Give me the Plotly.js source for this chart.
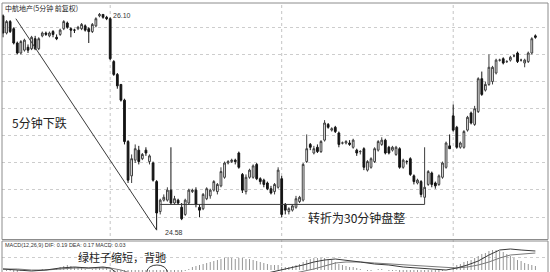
<!DOCTYPE html>
<html>
<head>
<meta charset="utf-8">
<script src="https://cdn.plot.ly/plotly-3.0.1.min.js"></script>
<style>
html, body { margin: 0; padding: 0; background: #ffffff; }
#chart { width: 550px; height: 272px; }
</style>
</head>
<body>
<div id="chart"></div>
<script>
// 5-minute bars over four sessions (48 bars per session)
const openPx = [
  26.08, 25.96, 26.04, 25.99, 25.89, 25.82, 25.84, 25.86, 25.85, 25.92,
  25.85, 25.94, 25.96, 25.94, 25.97, 25.93, 25.95, 25.99, 26.03, 25.99,
  25.98, 25.99, 25.99, 26.01, 25.99, 25.97, 26.01, 26.08, 26.09, 26.07,
  26.06, 25.76, 25.67, 25.60, 25.49, 25.20, 24.96, 25.07, 25.14, 25.08,
  25.14, 25.06, 25.05, 24.92, 24.71, 24.79, 24.79, 24.86, 24.77, 24.79,
  24.74, 24.69, 24.77, 24.85, 24.86, 24.74, 24.73, 24.80, 24.82, 24.86,
  24.85, 24.89, 24.95, 25.05, 25.06, 25.07, 25.12, 24.97, 24.85, 24.95,
  24.95, 25.04, 24.94, 24.93, 24.91, 24.87, 24.85, 24.88, 24.94, 24.76,
  24.71, 24.72, 24.74, 24.78, 24.79, 25.06, 25.18, 25.12, 25.16, 25.13,
  25.21, 25.32, 25.28, 25.30, 25.26, 25.19, 25.19, 25.19, 25.16, 25.14,
  25.13, 25.15, 25.00, 25.02, 25.06, 25.14, 25.18, 25.21, 25.16, 25.14,
  25.11, 25.15, 25.02, 25.06, 25.08, 24.96, 24.91, 24.92, 24.81, 24.90,
  24.98, 24.91, 24.90, 24.95, 25.02, 25.17, 25.38, 25.30, 25.16, 25.16,
  25.28, 25.40, 25.32, 25.41, 25.64, 25.56, 25.60, 25.62, 25.68, 25.77,
  25.78, 25.76, 25.77, 25.80, 25.82, 25.77, 25.75, 25.76, 25.82, 25.94
];
const highPx = [
  26.09, 26.05, 26.05, 26.00, 25.90, 25.91, 25.92, 25.88, 25.94, 25.94,
  25.93, 25.97, 25.97, 25.97, 25.98, 25.95, 25.99, 26.05, 26.04, 26.00,
  25.99, 26.01, 26.03, 26.02, 26.00, 26.03, 26.07, 26.10, 26.09, 26.08,
  26.07, 25.77, 25.68, 25.60, 25.50, 25.21, 25.11, 25.18, 25.17, 25.12,
  25.16, 25.11, 25.06, 24.93, 24.80, 24.83, 24.88, 25.16, 24.82, 24.80,
  24.77, 24.80, 24.87, 24.87, 24.88, 24.76, 24.84, 24.88, 24.87, 24.93,
  24.91, 25.02, 25.06, 25.07, 25.08, 25.08, 25.13, 24.98, 24.97, 25.01,
  25.04, 25.05, 24.95, 24.94, 24.92, 24.89, 24.91, 25.02, 24.96, 24.77,
  24.74, 24.76, 24.82, 24.82, 25.05, 25.25, 25.19, 25.17, 25.18, 25.21,
  25.35, 25.33, 25.30, 25.31, 25.27, 25.20, 25.21, 25.21, 25.22, 25.15,
  25.14, 25.16, 25.07, 25.09, 25.16, 25.21, 25.23, 25.22, 25.17, 25.17,
  25.17, 25.16, 25.08, 25.07, 25.09, 24.97, 24.94, 24.93, 25.16, 25.00,
  24.99, 24.92, 24.97, 25.06, 25.20, 25.25, 25.46, 25.31, 25.20, 25.28,
  25.38, 25.41, 25.45, 25.65, 25.69, 25.62, 25.81, 25.73, 25.78, 25.78,
  25.79, 25.77, 25.80, 25.81, 25.83, 25.78, 25.78, 25.83, 25.93, 25.95
];
const lowPx = [
  25.93, 25.95, 25.96, 25.88, 25.81, 25.81, 25.83, 25.82, 25.84, 25.84,
  25.84, 25.93, 25.94, 25.93, 25.93, 25.91, 25.94, 25.98, 25.99, 25.93,
  25.96, 25.98, 25.98, 25.97, 25.89, 25.96, 26.00, 26.07, 26.06, 26.05,
  25.77, 25.66, 25.57, 25.48, 25.18, 24.91, 24.91, 25.05, 25.04, 25.07,
  25.10, 25.04, 24.92, 24.58, 24.69, 24.78, 24.78, 24.76, 24.76, 24.76,
  24.65, 24.68, 24.76, 24.84, 24.74, 24.67, 24.72, 24.79, 24.80, 24.85,
  24.83, 24.88, 24.94, 25.04, 25.05, 25.04, 25.01, 24.84, 24.83, 24.94,
  24.94, 24.93, 24.90, 24.88, 24.86, 24.83, 24.83, 24.87, 24.67, 24.69,
  24.69, 24.71, 24.73, 24.77, 24.78, 25.05, 25.14, 25.11, 25.12, 25.12,
  25.20, 25.29, 25.27, 25.26, 25.16, 25.18, 25.18, 25.17, 25.15, 25.10,
  25.11, 25.00, 24.99, 25.01, 25.05, 25.13, 25.17, 25.11, 25.11, 25.13,
  25.10, 25.01, 25.01, 25.04, 24.96, 24.90, 24.90, 24.81, 24.76, 24.89,
  24.88, 24.87, 24.89, 24.94, 25.01, 25.15, 25.27, 25.15, 25.15, 25.15,
  25.27, 25.32, 25.31, 25.40, 25.52, 25.55, 25.59, 25.60, 25.67, 25.76,
  25.74, 25.75, 25.76, 25.79, 25.75, 25.76, 25.72, 25.75, 25.81, 25.92
];
const closePx = [
  25.96, 26.04, 25.97, 25.89, 25.82, 25.90, 25.91, 25.84, 25.93, 25.85,
  25.92, 25.96, 25.95, 25.96, 25.95, 25.92, 25.98, 26.04, 26.00, 25.98,
  25.98, 26.00, 26.02, 25.98, 25.97, 26.02, 26.06, 26.09, 26.07, 26.06,
  25.78, 25.67, 25.59, 25.49, 25.20, 24.93, 25.08, 25.15, 25.06, 25.11,
  25.12, 25.10, 24.93, 24.70, 24.79, 24.81, 24.86, 24.77, 24.80, 24.77,
  24.66, 24.79, 24.86, 24.86, 24.76, 24.72, 24.83, 24.87, 24.86, 24.92,
  24.90, 24.99, 25.05, 25.06, 25.07, 25.06, 25.02, 24.86, 24.95, 25.00,
  25.03, 24.94, 24.92, 24.90, 24.87, 24.84, 24.90, 25.00, 24.69, 24.72,
  24.73, 24.75, 24.80, 24.81, 25.04, 25.15, 25.16, 25.15, 25.13, 25.20,
  25.33, 25.30, 25.29, 25.27, 25.18, 25.19, 25.20, 25.18, 25.21, 25.12,
  25.13, 25.02, 25.06, 25.08, 25.15, 25.20, 25.21, 25.12, 25.12, 25.16,
  25.16, 25.02, 25.07, 25.06, 24.97, 24.92, 24.93, 24.83, 24.88, 24.99,
  24.90, 24.89, 24.96, 25.05, 25.19, 25.15, 25.28, 25.16, 25.19, 25.27,
  25.37, 25.33, 25.43, 25.64, 25.53, 25.60, 25.72, 25.72, 25.77, 25.77,
  25.75, 25.76, 25.79, 25.80, 25.76, 25.77, 25.77, 25.82, 25.92, 25.93
];
const sessionStarts = [30, 78, 126];

// MACD(12,26,9) histogram, one value per bar
const macdHist = [
  0.00, -0.01, -0.01, -0.02, -0.02, -0.01, -0.01, 0.00, 0.00, -0.01,
  0.00, 0.01, 0.01, 0.01, 0.01, 0.02, 0.03, 0.04, 0.05, 0.04,
  0.03, 0.03, 0.02, 0.01, 0.00, 0.01, 0.02, 0.03, 0.03, 0.02,
  -0.03, -0.08, -0.13, -0.18, -0.26, -0.33, -0.30, -0.28, -0.27, -0.26,
  -0.24, -0.20, -0.18, -0.20, -0.14, -0.11, -0.08, -0.06, -0.04, -0.03,
  -0.02, -0.01, 0.01, 0.03, 0.04, 0.05, 0.06, 0.07, 0.08, 0.09,
  0.10, 0.11, 0.12, 0.13, 0.12, 0.11, 0.12, 0.12, 0.11, 0.11,
  0.10, 0.09, 0.08, 0.07, 0.06, 0.05, 0.05, 0.05, 0.03, 0.03,
  0.03, 0.04, 0.05, 0.06, 0.08, 0.10, 0.11, 0.12, 0.12, 0.12,
  0.12, 0.11, 0.10, 0.08, 0.06, 0.05, 0.04, 0.03, 0.03, 0.02,
  0.01, 0.00, -0.01, -0.01, 0.00, 0.01, 0.01, 0.00, -0.01, -0.01,
  -0.01, -0.02, -0.02, -0.02, -0.03, -0.03, -0.04, -0.04, -0.04, -0.04,
  -0.03, -0.03, -0.02, -0.01, 0.00, 0.01, 0.03, 0.05, 0.06, 0.08,
  0.09, 0.10, 0.12, 0.14, 0.16, 0.17, 0.19, 0.20, 0.20, 0.19,
  0.18, 0.16, 0.14, 0.12, 0.10, 0.09, 0.07, 0.06, 0.05, 0.04
];
// DIF / DEA lines, read at these bars
const macdAt = [0, 4, 8, 12, 16, 20, 24, 28, 30, 33, 36, 40, 45, 50, 55, 60, 65, 70, 74, 78,
                81, 84, 87, 90, 93, 96, 100, 104, 108, 112, 116, 120, 124, 127, 130, 133, 136, 139, 142, 145, 149];
const difLine = [0.01, 0.00, -0.01, 0.00, 0.02, 0.03, 0.02, 0.03, 0.02, -0.06, -0.16, -0.24, -0.27, -0.24, -0.19, -0.14, -0.09, -0.05, -0.03, 0.00,
                 0.02, 0.05, 0.08, 0.10, 0.11, 0.10, 0.08, 0.06, 0.05, 0.03, 0.02, 0.01, 0.00, 0.02, 0.05, 0.09, 0.15, 0.20, 0.21, 0.20, 0.19];
const deaLine = [0.01, 0.01, 0.00, 0.00, 0.01, 0.02, 0.02, 0.02, 0.02, 0.00, -0.04, -0.10, -0.16, -0.19, -0.20, -0.18, -0.15, -0.12, -0.09, -0.06,
                 -0.04, -0.02, 0.01, 0.04, 0.07, 0.08, 0.08, 0.07, 0.06, 0.05, 0.04, 0.03, 0.02, 0.02, 0.03, 0.05, 0.08, 0.12, 0.15, 0.16, 0.17];
const macdReadout = { dif: 0.19, dea: 0.17, macd: 0.03 };

// Hand-drawn markup
const fallStart = { bar: 3.6, price: 26.06 };
const rangeStartBar = 44;
const rangeEndBar = 118;
const ellipseBars = [40.3, 45.9];

const bars = openPx.map((_, i) => i);
const hiIdx = highPx.indexOf(Math.max(...highPx));
const loIdx = lowPx.indexOf(Math.min(...lowPx));

const W = 550, H = 272;
const px = v => v / W;            // page x -> paper
const py = v => 1 - v / H;        // page y -> paper

const traces = [
  {
    type: 'candlestick', x: bars, open: openPx, high: highPx, low: lowPx, close: closePx,
    xaxis: 'x', yaxis: 'y', hoverinfo: 'skip', whiskerwidth: 0, showlegend: false,
    increasing: { line: { color: '#3c3c3c', width: 1 }, fillcolor: '#ffffff' },
    decreasing: { line: { color: '#141414', width: 1 }, fillcolor: '#141414' }
  },
  {
    type: 'bar', x: bars, y: macdHist, xaxis: 'x', yaxis: 'y2', width: 0.26,
    marker: { color: '#8e8e8e', line: { width: 0 } }, hoverinfo: 'skip', showlegend: false
  },
  {
    type: 'scatter', mode: 'lines', x: macdAt, y: deaLine, xaxis: 'x', yaxis: 'y2',
    line: { color: '#7a7a7a', width: 1 }, hoverinfo: 'skip', showlegend: false
  },
  {
    type: 'scatter', mode: 'lines', x: macdAt, y: difLine, xaxis: 'x', yaxis: 'y2',
    line: { color: '#3a3a3a', width: 1 }, hoverinfo: 'skip', showlegend: false
  }
];

const shapes = [
  // panel frames
  { type: 'rect', xref: 'paper', yref: 'paper', x0: px(2), x1: px(548), y0: py(239.5), y1: py(3),
    line: { color: '#8c8c8c', width: 1 }, fillcolor: 'rgba(0,0,0,0)' },
  { type: 'rect', xref: 'paper', yref: 'paper', x0: px(2), x1: px(548), y0: py(273), y1: py(241),
    line: { color: '#8c8c8c', width: 1 }, fillcolor: 'rgba(0,0,0,0)' },
  // falling trend line into the low
  { type: 'line', xref: 'x', yref: 'y', x0: fallStart.bar, y0: fallStart.price, x1: loIdx, y1: lowPx[loIdx],
    line: { color: '#3a3a3a', width: 1 } },
  // consolidation floor
  { type: 'line', xref: 'x', yref: 'y', x0: rangeStartBar, x1: rangeEndBar,
    y0: lowPx[rangeEndBar], y1: lowPx[rangeEndBar], line: { color: '#3a3a3a', width: 1 } },
  // ring around the shrinking green bars
  { type: 'circle', xref: 'x', yref: 'y2', x0: ellipseBars[0], x1: ellipseBars[1], y0: -0.08, y1: 0.05,
    line: { color: '#3a3a3a', width: 1 } }
];
sessionStarts.forEach(b => {
  shapes.push({ type: 'line', xref: 'x', yref: 'paper', x0: b, x1: b, y0: 0, y1: py(4),
    layer: 'below', line: { color: '#c4c4c4', width: 1, dash: 'dot' } });
});

const cjk = '"Noto Sans CJK SC", "Noto Sans", sans-serif';
const annotations = [
  { xref: 'paper', yref: 'paper', x: px(3), y: py(8), xanchor: 'left', yanchor: 'middle',
    text: '中航地产(5分钟 前复权)', showarrow: false, font: { family: cjk, size: 7, color: '#222' } },
  { xref: 'x', yref: 'y', x: hiIdx, y: highPx[hiIdx], xanchor: 'left', yanchor: 'middle',
    xshift: 12, yshift: -3, text: highPx[hiIdx].toFixed(2), showarrow: false,
    font: { family: 'Liberation Sans, Arial, sans-serif', size: 7, color: '#333' } },
  { xref: 'x', yref: 'y', x: loIdx, y: lowPx[loIdx], xanchor: 'left', yanchor: 'middle',
    xshift: 6, yshift: -2, text: lowPx[loIdx].toFixed(2), showarrow: false,
    font: { family: 'Liberation Sans, Arial, sans-serif', size: 7, color: '#333' } },
  { xref: 'paper', yref: 'paper', x: px(39), y: py(123), xanchor: 'center', yanchor: 'middle',
    text: '5分钟下跌', showarrow: false, font: { family: cjk, size: 12, color: '#222' } },
  { xref: 'paper', yref: 'paper', x: px(356), y: py(217), xanchor: 'center', yanchor: 'middle',
    text: '转折为30分钟盘整', showarrow: false, font: { family: cjk, size: 12, color: '#222' } },
  { xref: 'paper', yref: 'paper', x: px(3), y: py(245), xanchor: 'left', yanchor: 'middle',
    text: 'MACD(12,26,9) DIF: ' + macdReadout.dif.toFixed(2) + ' DEA: ' + macdReadout.dea.toFixed(2) +
          ' MACD: ' + macdReadout.macd.toFixed(2),
    showarrow: false, font: { family: 'Liberation Sans, Arial, sans-serif', size: 5.5, color: '#333' } },
  { xref: 'paper', yref: 'paper', x: px(122), y: py(257), xanchor: 'center', yanchor: 'middle',
    text: '绿柱子缩短，背驰', showarrow: false, font: { family: cjk, size: 11, color: '#222' } }
];

const layout = {
  width: W, height: H, autosize: false,
  margin: { l: 0, r: 0, t: 0, b: 0, pad: 0 },
  paper_bgcolor: '#ffffff', plot_bgcolor: '#ffffff',
  showlegend: false, dragmode: false, boxgap: 0.3,
  xaxis: {
    domain: [px(2), px(548)], range: [-0.28, 152.53],
    showgrid: false, zeroline: false, showticklabels: false, ticks: '',
    rangeslider: { visible: false }, fixedrange: true
  },
  yaxis: {
    domain: [py(240), py(4)], range: [24.511, 26.163],
    showgrid: true, gridcolor: '#cdcdcd', griddash: 'dot', gridwidth: 1,
    tick0: 24.672, dtick: 0.19,
    zeroline: false, showticklabels: false, ticks: '', fixedrange: true
  },
  yaxis2: {
    domain: [0, py(241)], range: [-0.02, 0.29],
    showgrid: true, gridcolor: '#cdcdcd', griddash: 'dot', gridwidth: 1,
    tickmode: 'array', tickvals: [0.13],
    zeroline: false, showticklabels: false, ticks: '', fixedrange: true
  },
  shapes: shapes,
  annotations: annotations
};

Plotly.newPlot('chart', traces, layout, { staticPlot: true, displayModeBar: false });
</script>
</body>
</html>
